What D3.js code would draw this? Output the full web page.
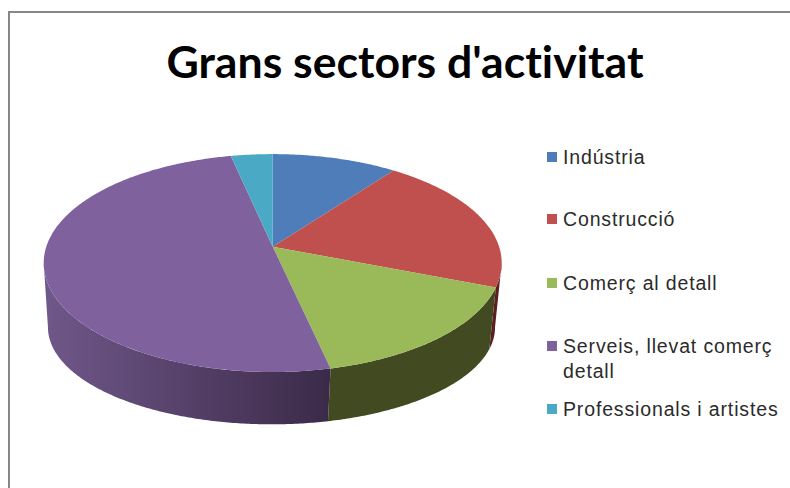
<!DOCTYPE html>
<html>
<head>
<meta charset="utf-8">
<style>
body { margin: 0; background: #fff; overflow: hidden; }
svg { display: block; }
</style>
<script src="https://cdn.jsdelivr.net/npm/d3@7"></script>
</head>
<body>
<script>
//chart data
var categories = ["Indústria", "Construcció", "Comerç al detall", "Serveis, llevat comerç detall", "Professionals i artistes"];
var shares = [10.2, 20.7, 15.6, 50.1, 3.4];
var colors = ["#4f7dba", "#bf504d", "#9ab958", "#7f619d", "#4aa9c4"];
var sideColors = ["#2c4a70", "#5c1f1f", "#414a20", "url(#sideGradient)", "#2c6475"];
var legendLines = [["Indústria"], ["Construcció"], ["Comerç al detall"], ["Serveis, llevat comerç", "detall"], ["Professionals i artistes"]];
var legendY = [157, 219, 283, 346, 409];

var width = 790, height = 488;

var svg = d3.select("body").append("svg")
    .attr("width", width)
    .attr("height", height);

//chart frame, runs off the right and bottom of the picture
svg.append("path")
    .attr("d", "M9,488V12H790")
    .attr("fill", "none")
    .attr("stroke", "#868686")
    .attr("stroke-width", 2);

svg.append("text")
    .attr("x", 405)
    .attr("y", 78)
    .attr("text-anchor", "middle")
    .attr("font-family", "Lato")
    .attr("font-weight", 700)
    .attr("font-size", 44.6)
    .style("font-variant-ligatures", "none")
    .attr("fill", "#000")
    .text("Grans sectors d'activitat");

//perspective of the tilted disc: makes the near edge bigger than the far one
var tilt = 0.15;
var pieCenter = [272.7, 246.7];

function makeProjection(cx, cy, rx, ry){
    return function(angle){
        var x = Math.sin(angle), y = -Math.cos(angle);
        var w = 1 - tilt * y;
        return [cx + rx * x / w, cy + ry * y / w];
    };
}

var topFace = makeProjection(pieCenter[0], pieCenter[1], 226.4, 106.5);
var bottomFace = makeProjection(271.5, 312.8, 221, 94.8);

var slices = d3.pie().sort(null)(shares);

//the wall only shows between the two silhouette points of the disc
var wallStart = Math.acos(-tilt);
var wallEnd = 2 * Math.PI - wallStart;

function arcPoints(project, a0, a1){
    var n = Math.max(2, Math.ceil((a1 - a0) / 0.01));
    return d3.range(n + 1).map(function(i){
        return project(a0 + (a1 - a0) * i / n);
    });
}

var line = d3.line();

//the side of the purple slice darkens towards the right
var gradient = svg.append("defs").append("linearGradient")
    .attr("id", "sideGradient")
    .attr("gradientUnits", "userSpaceOnUse")
    .attr("x1", 48).attr("x2", 330)
    .attr("y1", 0).attr("y2", 0);
gradient.append("stop").attr("offset", "0").attr("stop-color", "#6f5789");
gradient.append("stop").attr("offset", "1").attr("stop-color", "#3b2a48");

//side walls first, the top face goes over them
svg.append("g").selectAll("path")
    .data(slices)
    .enter()
    .append("path")
    .attr("d", function(d){
        var a0 = Math.max(d.startAngle, wallStart),
            a1 = Math.min(d.endAngle, wallEnd);
        if (a1 <= a0){
            return null;
        }
        return line(arcPoints(topFace, a0, a1).concat(arcPoints(bottomFace, a0, a1).reverse())) + "Z";
    })
    .attr("fill", function(d, i){ return sideColors[i]; });

svg.append("g").selectAll("path")
    .data(slices)
    .enter()
    .append("path")
    .attr("d", function(d){
        return line([pieCenter].concat(arcPoints(topFace, d.startAngle, d.endAngle))) + "Z";
    })
    .attr("fill", function(d, i){ return colors[i]; });

//legend
var legend = svg.append("g").selectAll("g")
    .data(categories)
    .enter()
    .append("g")
    .attr("transform", function(d, i){ return "translate(547," + legendY[i] + ")"; });

legend.append("rect")
    .attr("x", 0)
    .attr("y", -5)
    .attr("width", 10)
    .attr("height", 10)
    .attr("fill", function(d, i){ return colors[i]; });

legend.selectAll("text")
    .data(function(d, i){ return legendLines[i]; })
    .enter()
    .append("text")
    .attr("x", 16)
    .attr("y", function(d, i){ return 6.5 + i * 25; })
    .attr("font-family", "Liberation Sans")
    .attr("font-size", 19.5)
    .attr("letter-spacing", 0.85)
    .attr("fill", "#2b2b2b")
    .text(function(d){ return d; });
</script>
</body>
</html>
